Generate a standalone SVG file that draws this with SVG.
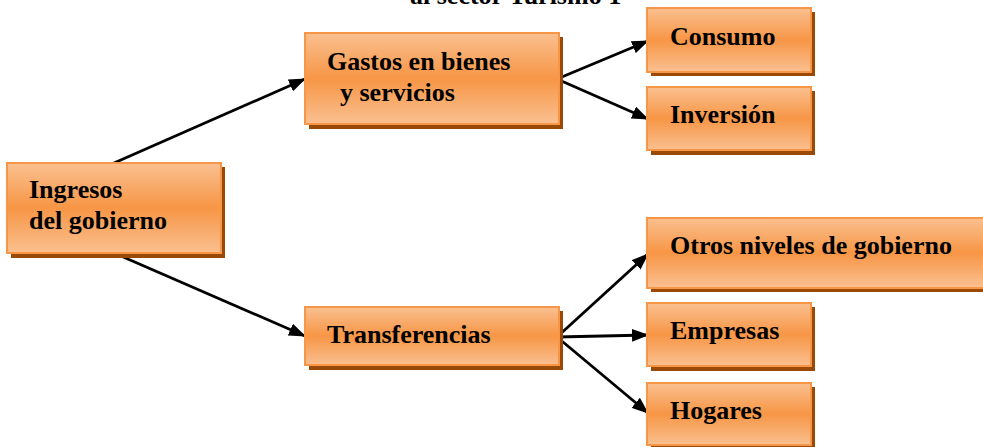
<svg xmlns="http://www.w3.org/2000/svg" width="983" height="447" viewBox="0 0 983 447">
<style>
.box{fill:url(#g);stroke:#f79646;stroke-width:2}
.sh{fill:#9a4a06}
.t{font-family:'Liberation Serif','DejaVu Serif',serif;font-weight:700;font-size:26px;fill:#000}
.c{stroke:#000;stroke-width:2.8;fill:none;marker-end:url(#a)}
</style>
<defs>
<linearGradient id="g" x1="0" y1="0" x2="0" y2="1">
<stop offset="0" stop-color="#fac090"/>
<stop offset="0.5" stop-color="#f79646"/>
<stop offset="1" stop-color="#fac090"/>
</linearGradient>
<marker id="a" viewBox="0 0 17 13" refX="16" refY="6.5" markerWidth="17" markerHeight="13" markerUnits="userSpaceOnUse" orient="auto">
<path d="M0,0 L17,6.5 L0,13 Z" fill="#000"/>
</marker>
</defs>
<rect width="983" height="447" fill="#fff"/>
<text class="t" x="410" y="4">al sector Turismo 1</text>
<g id="connectors">
<line class="c" x1="114" y1="163" x2="305" y2="79"/>
<line class="c" x1="114" y1="253" x2="305" y2="336"/>
<line class="c" x1="557" y1="79" x2="648" y2="41"/>
<line class="c" x1="557" y1="79" x2="648" y2="119"/>
<line class="c" x1="557" y1="337" x2="648" y2="254"/>
<line class="c" x1="557" y1="337" x2="648" y2="335"/>
<line class="c" x1="557" y1="337" x2="648" y2="413"/>
</g>
<g id="ingresos">
<rect class="sh" x="11" y="167" width="214" height="91"/>
<rect class="box" x="7" y="163" width="214" height="90"/>
<text class="t" x="29" y="198">Ingresos</text>
<text class="t" x="29" y="229">del gobierno</text>
</g>
<g id="gastos">
<rect class="sh" x="309" y="37" width="254" height="92"/>
<rect class="box" x="305" y="33" width="254" height="91"/>
<text class="t" x="327" y="70">Gastos en bienes</text>
<text class="t" x="340" y="101">y servicios</text>
</g>
<g id="transferencias">
<rect class="sh" x="309" y="311" width="254" height="59"/>
<rect class="box" x="305" y="307" width="254" height="58"/>
<text class="t" x="327" y="343">Transferencias</text>
</g>
<g id="consumo">
<rect class="sh" x="651" y="12" width="164" height="64"/>
<rect class="box" x="647" y="8" width="164" height="64"/>
<text class="t" x="670" y="45">Consumo</text>
</g>
<g id="inversion">
<rect class="sh" x="651" y="91" width="164" height="64"/>
<rect class="box" x="647" y="87" width="164" height="63"/>
<text class="t" x="670" y="123">Inversión</text>
</g>
<g id="otros">
<rect class="sh" x="651" y="222" width="340" height="70"/>
<rect class="box" x="647" y="218" width="340" height="70"/>
<text class="t" x="670" y="254">Otros niveles de gobierno</text>
</g>
<g id="empresas">
<rect class="sh" x="651" y="307" width="164" height="64"/>
<rect class="box" x="647" y="303" width="164" height="63"/>
<text class="t" x="670" y="339">Empresas</text>
</g>
<g id="hogares">
<rect class="sh" x="651" y="387" width="164" height="63"/>
<rect class="box" x="647" y="383" width="164" height="62"/>
<text class="t" x="670" y="419">Hogares</text>
</g>
</svg>
